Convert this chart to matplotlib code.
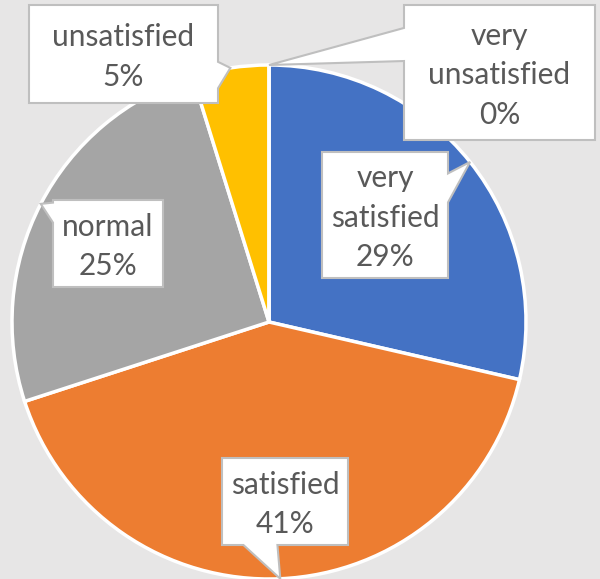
import numpy as np
import matplotlib
matplotlib.use("Agg")
import matplotlib.pyplot as plt
from matplotlib.patches import Polygon

# ---- data ----
categories = ["very satisfied", "satisfied", "normal", "unsatisfied", "very unsatisfied"]
shares = [28.6, 41.4, 25.2, 4.8, 0.0]
pct_labels = ["29%", "41%", "25%", "5%", "0%"]
label_lines = ["very\nsatisfied", "satisfied", "normal", "unsatisfied", "very\nunsatisfied"]
colors = ["#4472C4", "#ED7D31", "#A5A5A5", "#FFC000", "#5B9BD5"]

W, H = 600, 579
BG = "#E7E6E6"

fig = plt.figure(figsize=(W / 100, H / 100), dpi=100, facecolor=BG)
ax = fig.add_axes([0, 0, 1, 1])
ax.set_facecolor(BG)

cx, cy, R = 269, H - 322, 257
wedges, _ = ax.pie(shares, colors=colors, startangle=90, counterclock=False,
                   center=(cx, cy), radius=R,
                   wedgeprops=dict(edgecolor="white", linewidth=2.5))
ax.set_xlim(0, W)
ax.set_ylim(0, H)
ax.set_aspect("equal")
ax.axis("off")

# callout layout: box (x0, y0, x1, y1) in image px (top-left origin), side, base fractions
layout = {
    "very satisfied":   ((322, 152, 448, 278), "right", 0.17, 0.40),
    "satisfied":        ((222, 458, 348, 545), "bottom", 0.17, 0.44),
    "normal":           ((53, 200, 163, 287), "left", 0.03, 0.26),
    "unsatisfied":      ((29, 5, 218, 103), "right", 0.58, 0.85),
    "very unsatisfied": ((404, 5, 595, 140), "left", 0.17, 0.415),
}


def callout_path(box, side, b0, b1, tip):
    x0, y0, x1, y1 = box
    w, h = x1 - x0, y1 - y0
    TL, TR, BR, BL = (x0, y0), (x1, y0), (x1, y1), (x0, y1)
    if side == "right":
        pts = [TL, TR, (x1, y0 + b0 * h), tip, (x1, y0 + b1 * h), BR, BL]
    elif side == "left":
        pts = [TL, TR, BR, BL, (x0, y0 + b1 * h), tip, (x0, y0 + b0 * h)]
    elif side == "bottom":
        pts = [TL, TR, BR, (x0 + b1 * w, y1), tip, (x0 + b0 * w, y1), BL]
    else:
        pts = [TL, (x0 + b0 * w, y0), tip, (x0 + b1 * w, y0), TR, BR, BL]
    return [(px, H - py) for px, py in pts]


for wdg, cat, lines, pct in zip(wedges, categories, label_lines, pct_labels):
    mid = np.deg2rad((wdg.theta1 + wdg.theta2) / 2)
    tip_x = cx + R * np.cos(mid)
    tip_y = H - (cy + R * np.sin(mid))  # image coords
    box, side, b0, b1 = layout[cat]
    poly = Polygon(callout_path(box, side, b0, b1, (tip_x, tip_y)), closed=True,
                   facecolor="white", edgecolor="#BFBFBF", linewidth=1.5, zorder=5)
    ax.add_patch(poly)
    x0, y0, x1, y1 = box
    ax.text((x0 + x1) / 2, H - (y0 + y1) / 2 - 3, f"{lines}\n{pct}",
            ha="center", va="center", fontsize=21.5, color="#595959",
            family=["Lato", "DejaVu Sans"], linespacing=1.5, zorder=6)

fig.savefig("out.png", dpi=100, facecolor=BG)
